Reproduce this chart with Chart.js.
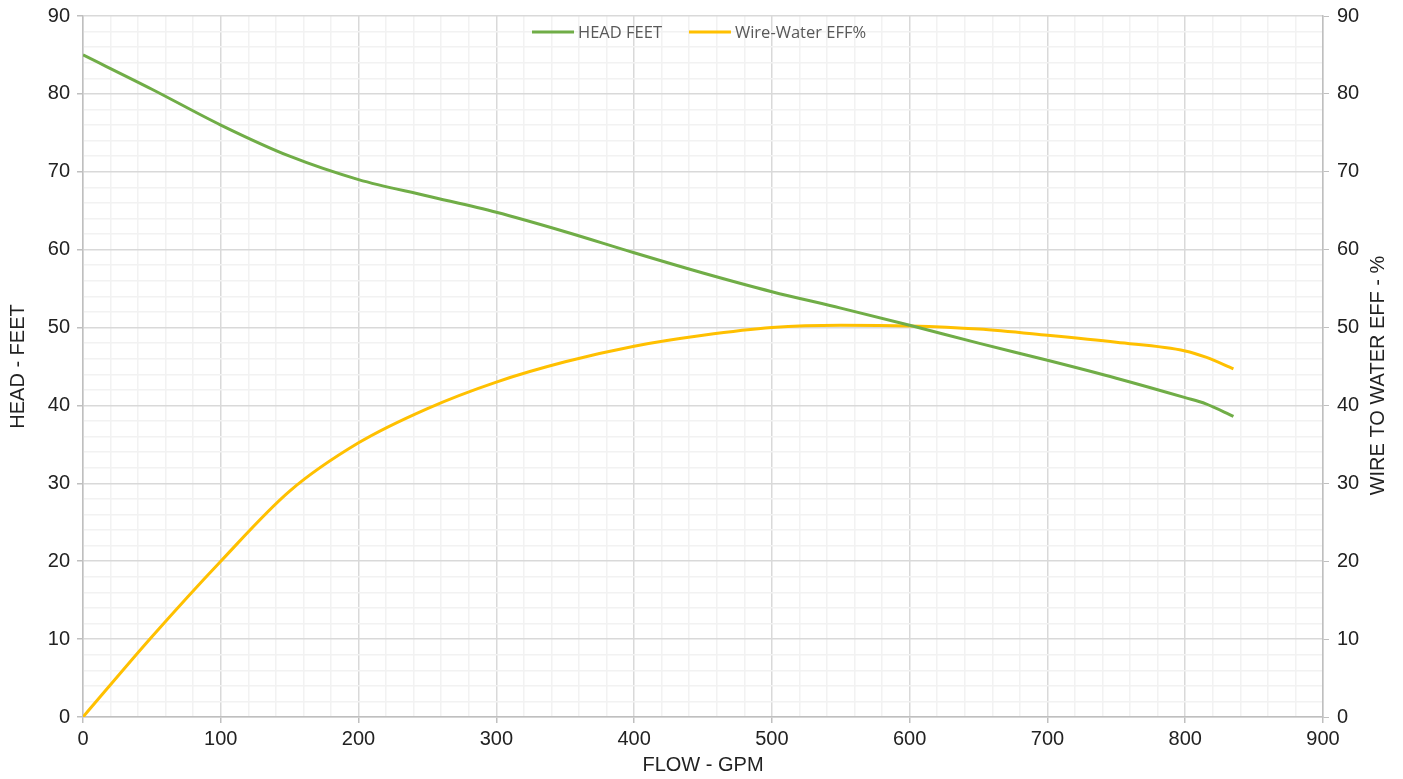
<!DOCTYPE html>
<html>
<head>
<meta charset="utf-8">
<script src="https://cdn.jsdelivr.net/npm/chart.js@4.4.1/dist/chart.umd.min.js"></script>
<style>
  html, body { margin: 0; padding: 0; background: #fff; }
  #wrap { width: 1403px; height: 779px; }
</style>
</head>
<body>
<div id="wrap"><canvas id="pumpChart"></canvas></div>
<script>
// flow points (GPM)
const flow = [0, 50, 100, 150, 200, 250, 300, 350, 400, 450, 500, 550, 600, 650, 700, 750, 800, 815, 835];
const headFeet = [85, 80.6, 76, 72, 69, 66.9, 64.8, 62.3, 59.6, 57, 54.6, 52.5, 50.3, 48, 45.8, 43.5, 41, 40.2, 38.6];
const wireWaterEff = [0, 10.3, 20, 29, 35.2, 39.6, 43, 45.6, 47.6, 49, 50, 50.3, 50.2, 49.8, 49, 48.1, 47, 46.2, 44.7];
const seriesNames = ['HEAD FEET', 'Wire-Water EFF%'];
const rightTitle = 'WIRE TO WATER EFF - %';

const toPoints = (xs, ys) => xs.map((x, i) => ({ x: x, y: ys[i] }));

const majorGrid = '#d9d9d9';
const minorGrid = '#f2f2f2';
const tickFont = { family: 'Liberation Sans, Arial', size: 20 };
const titleFont = { family: 'Liberation Sans, Arial', size: 20 };

// legend drawn inside the plot, top centre; right axis title reads bottom-to-top
const extras = {
    id: 'extras',
    afterDraw(chart) {
        const ctx = chart.ctx;
        ctx.save();
        ctx.font = '16.5px "Open Sans", "Noto Sans"';
        ctx.textBaseline = 'middle';
        const lineW = 42, gap = 4, itemGap = 27;
        let x = 532;
        const y = 32;
        chart.data.datasets.forEach(ds => {
            ctx.strokeStyle = ds.borderColor;
            ctx.lineWidth = 3;
            ctx.beginPath();
            ctx.moveTo(x, y);
            ctx.lineTo(x + lineW, y);
            ctx.stroke();
            ctx.fillStyle = '#595959';
            ctx.fillText(ds.label, x + lineW + gap, y + 1);
            x += lineW + gap + ctx.measureText(ds.label).width + itemGap;
        });

        const area = chart.chartArea;
        ctx.translate(1378, (area.top + area.bottom) / 2 + 9);
        ctx.rotate(-Math.PI / 2);
        ctx.font = '20px "Liberation Sans", Arial';
        ctx.fillStyle = '#222';
        ctx.textAlign = 'center';
        ctx.fillText(rightTitle, 0, 0);
        ctx.restore();
    }
};

const fixY = width => scale => {
    scale.width = width;
    scale.paddingTop = 0;
    scale.paddingBottom = 0;
};

const ctx = document.getElementById('pumpChart').getContext('2d');
const pumpChart = new Chart(ctx, {
    type: 'line',
    data: {
        datasets: [{
            label: seriesNames[0],
            data: toPoints(flow, headFeet),
            borderColor: '#70ad47',
            backgroundColor: '#70ad47',
            borderWidth: 3,
            pointRadius: 0,
            cubicInterpolationMode: 'monotone',
            yAxisID: 'y'
        }, {
            label: seriesNames[1],
            data: toPoints(flow, wireWaterEff),
            borderColor: '#ffc000',
            backgroundColor: '#ffc000',
            borderWidth: 3,
            pointRadius: 0,
            cubicInterpolationMode: 'monotone',
            yAxisID: 'y2'
        }]
    },
    options: {
        responsive: true,
        maintainAspectRatio: false,
        animation: false,
        layout: { padding: { top: 16, left: 0, right: 0, bottom: 0 } },
        plugins: {
            legend: { display: false },
            tooltip: { enabled: false }
        },
        scales: {
            x: {
                type: 'linear',
                min: 0,
                max: 900,
                ticks: {
                    stepSize: 20,
                    autoSkip: false,
                    maxRotation: 0,
                    color: '#222',
                    font: tickFont,
                    padding: 4,
                    callback: v => (v % 100 === 0 ? v : '')
                },
                grid: {
                    color: c => (c.tick && c.tick.value % 100 === 0 ? majorGrid : minorGrid),
                    tickColor: c => (c.tick && c.tick.value % 100 === 0 ? '#bfbfbf' : 'rgba(0,0,0,0)'),
                    tickLength: 6,
                    lineWidth: 1.5
                },
                border: { color: '#bfbfbf', width: 1.5 },
                title: { display: true, text: 'FLOW - GPM', color: '#222', font: titleFont, padding: { top: 0, bottom: 2 } },
                afterFit(scale) { scale.height = 62; }
            },
            y: {
                position: 'left',
                min: 0,
                max: 90,
                ticks: {
                    stepSize: 2,
                    autoSkip: false,
                    color: '#222',
                    font: tickFont,
                    padding: 7,
                    callback: v => (v % 10 === 0 ? v : '')
                },
                grid: {
                    color: c => (c.tick && c.tick.value % 10 === 0 ? majorGrid : minorGrid),
                    tickColor: c => (c.tick && c.tick.value % 10 === 0 ? '#bfbfbf' : 'rgba(0,0,0,0)'),
                    tickLength: 6,
                    lineWidth: 1.5
                },
                border: { color: '#bfbfbf', width: 1.5 },
                title: { display: true, text: 'HEAD - FEET', color: '#222', font: titleFont, padding: { top: 6, bottom: 4 } },
                afterFit: fixY(83)
            },
            y2: {
                position: 'right',
                min: 0,
                max: 90,
                ticks: {
                    stepSize: 10,
                    color: '#222',
                    font: tickFont,
                    padding: 8
                },
                grid: {
                    drawOnChartArea: false,
                    tickColor: '#bfbfbf',
                    tickLength: 6
                },
                border: { color: '#bfbfbf', width: 1.5 },
                title: { display: false },
                afterFit: fixY(80)
            }
        }
    },
    plugins: [extras]
});
</script>
</body>
</html>
